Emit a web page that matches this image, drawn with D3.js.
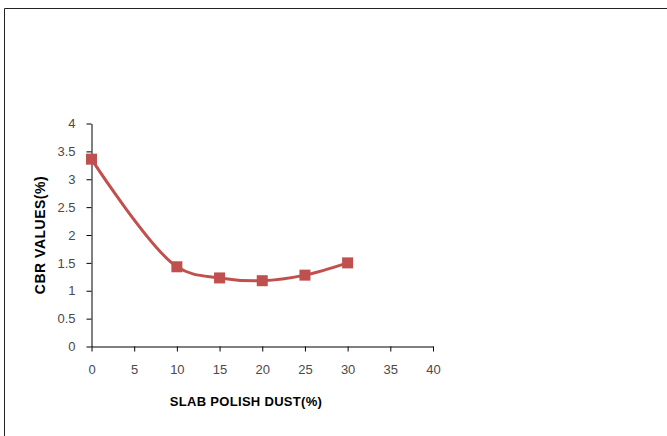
<!DOCTYPE html>
<html>
<head>
<meta charset="utf-8">
<script src="https://cdn.jsdelivr.net/npm/d3@7"></script>
<style>
  html, body { margin: 0; padding: 0; background: #fff; }
  svg { display: block; }
</style>
</head>
<body>
<svg id="chart" width="667" height="436"></svg>
<script>
const dustPercent = [0, 10, 15, 20, 25, 30];
const cbrValues = [3.36, 1.43, 1.23, 1.18, 1.28, 1.50];
const xTicks = [0, 5, 10, 15, 20, 25, 30, 35, 40];
const yTicks = [0, 0.5, 1, 1.5, 2, 2.5, 3, 3.5, 4];
const xTitle = "SLAB POLISH DUST(%)";
const yTitle = "CBR VALUES(%)";

const svg = d3.select("#chart");
const color = "#C0504D";

// outer frame (top and left edges visible)
svg.append("line").attr("x1", 4.5).attr("y1", 8.5).attr("x2", 667).attr("y2", 8.5)
  .attr("stroke", "#222").attr("stroke-width", 1);
svg.append("line").attr("x1", 4.5).attr("y1", 8.5).attr("x2", 4.5).attr("y2", 436)
  .attr("stroke", "#222").attr("stroke-width", 1);

const x = d3.scaleLinear().domain([0, 40]).range([91.5, 433]);
const y = d3.scaleLinear().domain([0, 4]).range([346.5, 123.5]);

const fmt = d => String(d);

const xAxis = svg.append("g")
  .attr("transform", `translate(0,${y(0)})`)
  .call(d3.axisBottom(x).tickValues(xTicks).tickFormat(fmt).tickSize(5).tickPadding(13).tickSizeOuter(0));
const yAxis = svg.append("g")
  .attr("transform", `translate(${x(0)},0)`)
  .call(d3.axisLeft(y).tickValues(yTicks).tickFormat(fmt).tickSize(5).tickPadding(11).tickSizeOuter(0));

[xAxis, yAxis].forEach(g => {
  g.select(".domain").attr("stroke", "#000").attr("stroke-width", 1);
  g.selectAll(".tick line").attr("stroke", "#000");
  g.selectAll(".tick text")
    .attr("fill", "#4a4a4a")
    .style("font-family", "'Liberation Sans', Arial, sans-serif")
    .style("font-size", "13px");
});

// smoothed line
const line = d3.line()
  .x((d, i) => x(dustPercent[i]))
  .y(d => y(d))
  .curve(d3.curveCatmullRom.alpha(0.5));

svg.append("path")
  .datum(cbrValues)
  .attr("d", line)
  .attr("fill", "none")
  .attr("stroke", color)
  .attr("stroke-width", 3);

const ms = 11;
svg.selectAll("rect.marker")
  .data(cbrValues)
  .join("rect")
  .attr("class", "marker")
  .attr("x", (d, i) => x(dustPercent[i]) - ms / 2)
  .attr("y", d => y(d) - ms / 2)
  .attr("width", ms)
  .attr("height", ms)
  .attr("fill", color);

// axis titles
svg.append("text")
  .attr("x", 246)
  .attr("y", 406)
  .attr("text-anchor", "middle")
  .style("font-family", "'Liberation Sans', Arial, sans-serif")
  .style("font-size", "13px")
  .style("letter-spacing", "0.3px")
  .style("font-weight", "bold")
  .attr("fill", "#000")
  .text(xTitle);

svg.append("text")
  .attr("transform", "translate(45,235) rotate(-90)")
  .attr("text-anchor", "middle")
  .style("font-family", "'Liberation Sans', Arial, sans-serif")
  .style("font-size", "14px")
  .style("letter-spacing", "0.5px")
  .style("font-weight", "bold")
  .attr("fill", "#000")
  .text(yTitle);
</script>
</body>
</html>
